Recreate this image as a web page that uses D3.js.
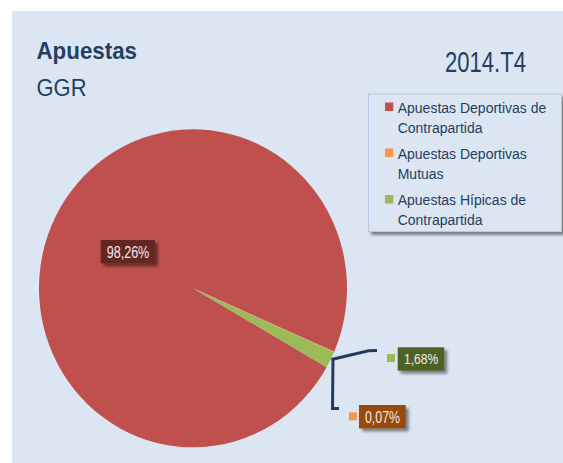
<!DOCTYPE html>
<html><head><meta charset="utf-8">
<script src="https://cdn.jsdelivr.net/npm/d3@7"></script>
<style>html,body{margin:0;padding:0;background:#fff;}svg{display:block;}</style>
</head><body>
<script>
const categories = ["Apuestas Deportivas de Contrapartida", "Apuestas Deportivas Mutuas", "Apuestas Hípicas de Contrapartida"];
const legendLines = [["Apuestas Deportivas de", "Contrapartida"], ["Apuestas Deportivas", "Mutuas"], ["Apuestas Hípicas de", "Contrapartida"]];
const values = [98.26, 0.07, 1.68];
const valueLabels = ["98,26%", "0,07%", "1,68%"];
const colors = ["#c0504d", "#f79646", "#9bbb59"];
const labelFills = ["#632523", "#984807", "#4f6228"];
const title = "Apuestas", subtitle = "GGR", period = "2014.T4";

const W = 563, H = 463;
const svg = d3.select("body").append("svg").attr("width", W).attr("height", H);
const defs = svg.append("defs");
const f = defs.append("filter").attr("id", "sh").attr("x", "-30%").attr("y", "-30%").attr("width", "170%").attr("height", "180%");
f.append("feDropShadow").attr("dx", 3).attr("dy", 3).attr("stdDeviation", 1.6).attr("flood-color", "#000").attr("flood-opacity", 0.45);

svg.append("rect").attr("x", 12).attr("y", 11).attr("width", W - 12).attr("height", H - 11).attr("fill", "#dce6f2");

const navy = "#243f60";
const font = "'Liberation Sans', Arial, sans-serif";
svg.append("text").attr("x", 36.5).attr("y", 59.3).attr("font-family", font).attr("font-weight", "bold")
  .attr("font-size", 24).attr("textLength", 100.5).attr("lengthAdjust", "spacingAndGlyphs").attr("fill", navy).text(title);
svg.append("text").attr("x", 36.5).attr("y", 96).attr("font-family", font)
  .attr("font-size", 24.5).attr("textLength", 50).attr("lengthAdjust", "spacingAndGlyphs").attr("fill", navy).text(subtitle);
svg.append("text").attr("x", 445).attr("y", 71.7).attr("font-family", font)
  .attr("font-size", 30).attr("textLength", 81).attr("lengthAdjust", "spacingAndGlyphs").attr("fill", navy).text(period);

// Pie
const cx = 193, cy = 288.3, r = 154, sy = 159 / 154;
const start = 119.8 * Math.PI / 180;
const pie = d3.pie().sort(null).value(d => d).startAngle(start).endAngle(start + 2 * Math.PI);
const arcs = pie(values);
const arc = d3.arc().innerRadius(0).outerRadius(r);
const pg = svg.append("g").attr("transform", `translate(${cx},${cy}) scale(1,${sy})`);
pg.selectAll("path").data(arcs).join("path").attr("d", arc).attr("fill", (d, i) => colors[i]);

// Leader lines
const lineG = svg.append("g").attr("fill", "none").attr("stroke", "#1f3b5e").attr("stroke-width", 3).attr("stroke-linejoin", "miter");
lineG.append("path").attr("d", d3.line()([[331.5, 359.5], [368.5, 350.8], [377, 350.5]]));
lineG.append("path").attr("d", d3.line()([[333, 358], [332.5, 408.5], [339, 408.5]]));

// Data labels
const labelPos = [
  {bx: 100.7, by: 240, bw: 54.3, bh: 23.4, tx: 106.7, ty: 258.3, tl: 42.6, fs: 16, sq: null},
  {bx: 359, by: 405, bw: 46.7, bh: 23.4, tx: 365, ty: 422.7, tl: 35, fs: 16, sq: [349, 412.3]},
  {bx: 397.7, by: 347.3, bw: 46.6, bh: 23.4, tx: 404, ty: 364.3, tl: 34.3, fs: 15.5, sq: [387, 354]}
];
labelPos.forEach((p, i) => {
  if (p.sq) svg.append("rect").attr("x", p.sq[0]).attr("y", p.sq[1]).attr("width", 8).attr("height", 8).attr("fill", colors[i]);
  svg.append("rect").attr("x", p.bx).attr("y", p.by).attr("width", p.bw).attr("height", p.bh)
    .attr("fill", labelFills[i]).attr("filter", "url(#sh)");
  svg.append("text").attr("x", p.tx).attr("y", p.ty).attr("font-family", font).attr("font-size", p.fs)
    .attr("textLength", p.tl).attr("lengthAdjust", "spacingAndGlyphs").attr("fill", "#f2e9e8").text(valueLabels[i]);
});

// Legend
svg.append("rect").attr("x", 368.5).attr("y", 94).attr("width", 193).attr("height", 137.5)
  .attr("fill", "#dce6f2").attr("stroke", "#b4c8e2").attr("stroke-width", 1).attr("filter", "url(#sh)");
const legY = [102.5, 148.5, 195];
categories.forEach((c, i) => {
  const g = svg.append("g");
  g.append("rect").attr("x", 385).attr("y", legY[i]).attr("width", 8.3).attr("height", 8.5).attr("fill", colors[i]);
  legendLines[i].forEach((ln, j) => {
    g.append("text").attr("x", 397.7).attr("y", legY[i] + 10 + j * 20).attr("font-family", font)
      .attr("font-size", 14).attr("fill", navy).text(ln);
  });
});
</script>
</body></html>
